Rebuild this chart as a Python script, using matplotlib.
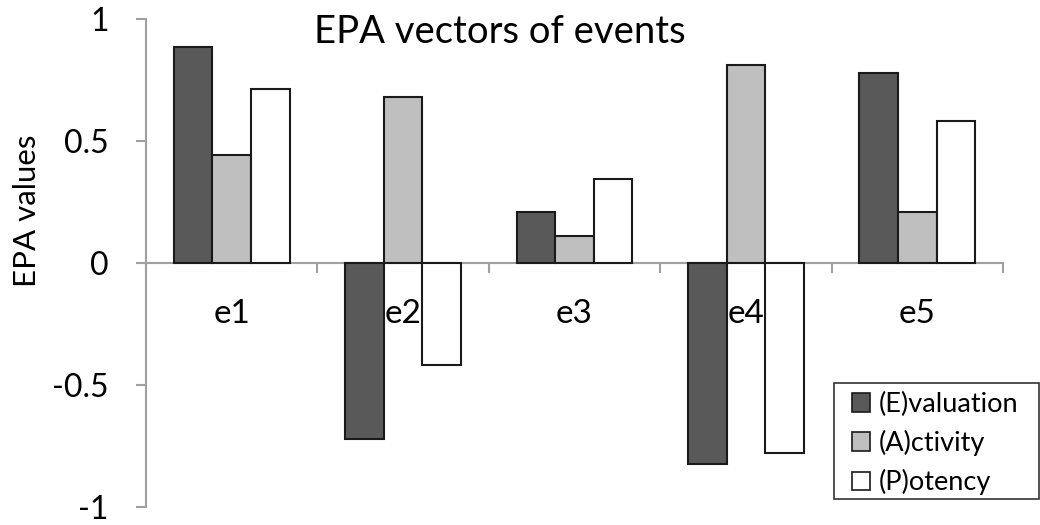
import matplotlib
matplotlib.use("Agg")
import matplotlib.pyplot as plt
from matplotlib.patches import Rectangle
import numpy as np

categories = ["e1", "e2", "e3", "e4", "e5"]
evaluation = [0.887, -0.72, 0.21, -0.825, 0.777]
activity = [0.443, 0.68, 0.11, 0.81, 0.208]
potency = [0.715, -0.42, 0.345, -0.78, 0.583]
series_names = ["(E)valuation", "(A)ctivity", "(P)otency"]
series_colors = ["#595959", "#BFBFBF", "#FFFFFF"]
yticks = [-1, -0.5, 0, 0.5, 1]
ytick_labels = ["-1", "-0.5", "0", "0.5", "1"]

plt.rcParams['font.family'] = ['Lato', 'DejaVu Sans']

W, H = 1040, 525
fig = plt.figure(figsize=(W/100, H/100), dpi=100)
ax = fig.add_axes([146/W, 1-507/H, (1003-146)/W, (507-19)/H])

x = np.arange(len(categories))
w = 0.225
for i, (vals, name, col) in enumerate(zip([evaluation, activity, potency], series_names, series_colors)):
    ax.bar(x + (i-1)*w, vals, width=w, color=col, edgecolor="#1a1a1a", linewidth=1.5, label=name, zorder=3)

ax.set_xlim(-0.5, len(categories)-0.5)
ax.set_ylim(-1, 1)
for s in ["top", "right"]:
    ax.spines[s].set_visible(False)
ax.spines["bottom"].set_position(("data", 0))
for s in ["left", "bottom"]:
    ax.spines[s].set_color("#A0A0A0")
    ax.spines[s].set_linewidth(1.5)

ax.set_yticks(yticks)
ax.set_yticklabels(ytick_labels, fontsize=23)
ax.tick_params(axis="y", direction="out", length=7, width=1.5, color="#A0A0A0", pad=20)

ax.set_xticks(np.arange(len(categories)+1) - 0.5)
ax.set_xticklabels([])
ax.tick_params(axis="x", which="major", direction="out", length=7, width=1.5, color="#A0A0A0")
ax.set_xticks(x, minor=True)
ax.set_xticklabels(categories, minor=True, fontsize=24)
ax.tick_params(axis="x", which="minor", length=0, pad=26)

fig.text(27/W, 1-211/H, "EPA values", fontsize=22.5, rotation=90, ha="center", va="center")

fig.text(500/W, 1-32/H, "EPA vectors of events", fontsize=27.5, ha="center", va="center")

fs = 19.5
leg = ax.legend(loc="upper left", bbox_to_anchor=(852/W, 1-392/H), bbox_transform=fig.transFigure,
                fontsize=fs, frameon=False,
                handlelength=0.68, handleheight=0.68, handletextpad=0.3, borderpad=0,
                borderaxespad=0, labelspacing=0.48)
for hdl in leg.legend_handles:
    hdl.set_linewidth(1.2)
fig.patches.append(Rectangle((834/W, 1-499/H), (1039-834)/W, (499-383)/H, transform=fig.transFigure,
                             facecolor="none", edgecolor="#333333", linewidth=1.2))

fig.savefig("out.png", dpi=100)
